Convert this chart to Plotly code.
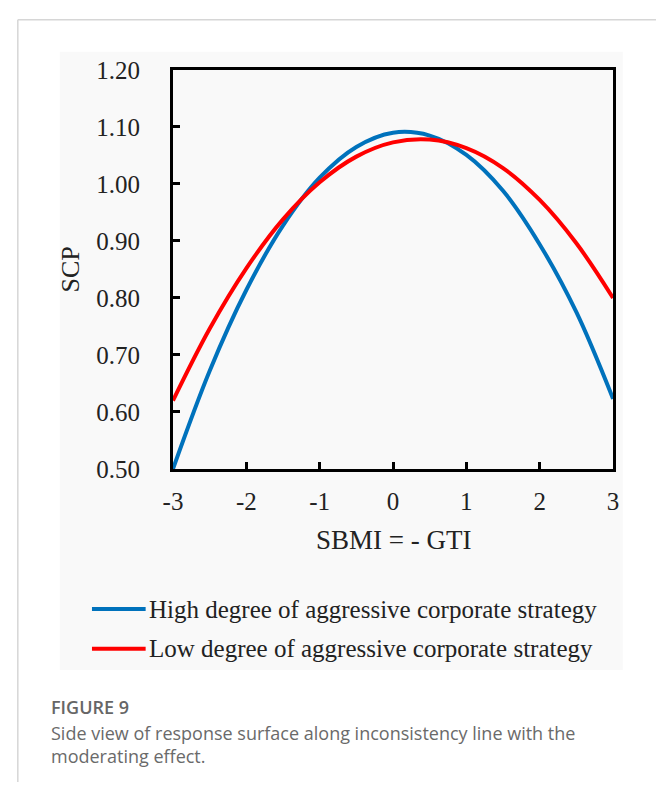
import plotly.graph_objects as go

# ---- data ----
sbmi = [-3, -2.5, -2, -1.5, -1, -0.5, 0, 0.5, 1, 1.5, 2, 2.5, 3]
scp_high = [0.500, 0.672, 0.814, 0.927, 1.011, 1.065, 1.090, 1.085, 1.051, 0.988, 0.894, 0.775, 0.623]
scp_low = [0.620, 0.746, 0.852, 0.938, 1.003, 1.048, 1.073, 1.078, 1.063, 1.028, 0.972, 0.896, 0.800]
name_high = "High degree of aggressive corporate strategy"
name_low = "Low degree of aggressive corporate strategy"
x_ticks = [-3, -2, -1, 0, 1, 2, 3]
x_tick_text = ["-3", "-2", "-1", "0", "1", "2", "3"]
y_ticks = [0.5, 0.6, 0.7, 0.8, 0.9, 1.0, 1.1, 1.2]
y_tick_text = ["0.50", "0.60", "0.70", "0.80", "0.90", "1.00", "1.10", "1.20"]

BLUE = "#0072BC"
RED = "#FF0000"
W, H = 662, 796
SERIF = "Liberation Serif, Times New Roman, serif"
SANS = "Open Sans, Noto Sans, sans-serif"


def px(x):
    return x / W


def py(y):
    return 1 - y / H


fig = go.Figure()
fig.add_trace(go.Scatter(x=sbmi, y=scp_high, mode="lines", name=name_high,
                         line=dict(color=BLUE, width=4, shape="spline", smoothing=1.0)))
fig.add_trace(go.Scatter(x=sbmi, y=scp_low, mode="lines", name=name_low,
                         line=dict(color=RED, width=4, shape="spline", smoothing=1.0)))

axis_common = dict(showline=True, linewidth=3, linecolor="black", mirror=True,
                   ticks="inside", ticklen=7, tickwidth=3, tickcolor="black",
                   showgrid=False, zeroline=False,
                   tickfont=dict(family=SERIF, size=25, color="#222"))

fig.update_xaxes(range=[-3, 3], tickvals=x_ticks, ticktext=x_tick_text,
                 domain=[px(167), px(618)], ticklabelstandoff=8, **axis_common)
fig.update_yaxes(range=[0.5, 1.2], tickvals=y_ticks, ticktext=y_tick_text,
                 domain=[py(472), py(59)], ticklabelstandoff=25, **axis_common)

shapes = [
    # page frame lines
    dict(type="line", xref="paper", yref="paper", x0=px(8), x1=1.0, y0=py(7), y1=py(7),
         line=dict(color="#d6d6d6", width=1.5), layer="below"),
    dict(type="line", xref="paper", yref="paper", x0=px(8), x1=px(8), y0=py(7), y1=0,
         line=dict(color="#d6d6d6", width=1.5), layer="below"),
    # light image panel
    dict(type="rect", xref="paper", yref="paper", x0=px(51), x1=px(628), y0=py(680), y1=py(40),
         fillcolor="#f9f9f9", line=dict(width=0), layer="below"),
    # legend samples
    dict(type="line", xref="paper", yref="paper", x0=px(84), x1=px(139), y0=py(617), y1=py(617),
         line=dict(color=BLUE, width=4)),
    dict(type="line", xref="paper", yref="paper", x0=px(84), x1=px(139), y0=py(658), y1=py(658),
         line=dict(color=RED, width=4)),
]

annotations = [
    dict(text="SCP", x=px(62), y=py(266), xref="paper", yref="paper", textangle=-90,
         showarrow=False, font=dict(family=SERIF, size=26, color="#222"),
         xanchor="center", yanchor="middle"),
    dict(text="SBMI = - GTI", x=px(392.5), y=py(545), xref="paper", yref="paper",
         showarrow=False, font=dict(family=SERIF, size=27, color="#222"),
         xanchor="center", yanchor="middle"),
    dict(text=name_high, x=px(140), y=py(617), xref="paper", yref="paper",
         showarrow=False, font=dict(family=SERIF, size=25, color="#222"),
         xanchor="left", yanchor="middle"),
    dict(text=name_low, x=px(140), y=py(658), xref="paper", yref="paper",
         showarrow=False, font=dict(family=SERIF, size=25, color="#222"),
         xanchor="left", yanchor="middle"),
    dict(text="FIGURE 9", x=px(40), y=py(718), xref="paper", yref="paper",
         showarrow=False, font=dict(family=SANS, size=18, color="#666666", weight=600),
         xanchor="left", yanchor="middle"),
    dict(text="Side view of response surface along inconsistency line with the<br>moderating effect.",
         x=px(40), y=py(731), xref="paper", yref="paper", align="left",
         showarrow=False, font=dict(family=SANS, size=18, color="#6a6a6a"),
         xanchor="left", yanchor="top"),
]

fig.update_layout(width=W, height=H, margin=dict(l=0, r=0, t=0, b=0),
                  paper_bgcolor="white", plot_bgcolor="rgba(0,0,0,0)",
                  showlegend=False, shapes=shapes, annotations=annotations)

fig.write_html("out.html", post_script="document.body.style.margin='0px';")
